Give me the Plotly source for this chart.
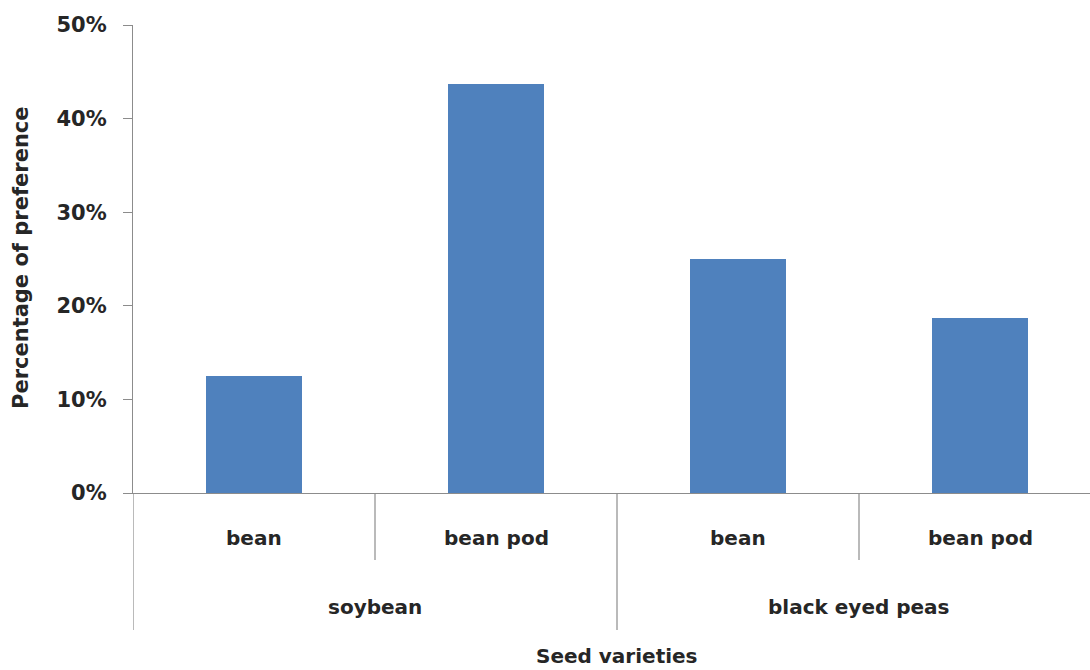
import plotly.graph_objects as go

# Seed preference data (percent of choices)
varieties = ["soybean", "soybean", "black eyed peas", "black eyed peas"]
parts = ["bean", "bean pod", "bean", "bean pod"]
preference = [12.5, 43.75, 25.0, 18.75]
y_ticks = [0, 10, 20, 30, 40, 50]
y_tick_labels = ["0%", "10%", "20%", "30%", "40%", "50%"]

BAR = "#4F81BD"
AXIS = "#8c8c8c"
TEXT = "#262626"
FONT = "DejaVu Sans"

xpos = list(range(len(parts)))

fig = go.Figure(
    go.Bar(
        x=xpos,
        y=preference,
        width=0.395,
        marker=dict(color=BAR, line=dict(width=0)),
        hovertemplate="%{y}%<extra></extra>",
    )
)

W, H = 1090, 670
ml, mt, mb = 133, 25, 177
plot_h = H - mt - mb

def ypaper(px):
    # pixel row below the plot area -> paper coordinate
    return (H - mb - px) / plot_h

label_font = dict(size=20, color=TEXT, family=FONT)

# inner labels
annotations = []
for i, p in enumerate(parts):
    annotations.append(dict(x=i, y=ypaper(538), xref="x", yref="paper", text=f"<b>{p}</b>",
                            showarrow=False, font=label_font,
                            xanchor="center", yanchor="middle"))

# outer group labels
groups = []
for i, v in enumerate(varieties):
    if not groups or groups[-1][0] != v:
        groups.append([v, i, i])
    else:
        groups[-1][2] = i

for name, start, end in groups:
    annotations.append(dict(x=(start + end) / 2, y=ypaper(607), xref="x", yref="paper",
                            text=f"<b>{name}</b>", showarrow=False, font=label_font,
                            xanchor="center", yanchor="middle"))

# dividers between inner categories (short) and between groups (long)
shapes = []
for i in range(len(parts)):
    xb = i - 0.5
    is_group_edge = i == 0 or varieties[i] != varieties[i - 1]
    bottom = ypaper(630) if is_group_edge else ypaper(560)
    shapes.append(dict(type="line", xref="x", yref="paper", x0=xb, x1=xb, y0=0, y1=bottom,
                       line=dict(color=AXIS, width=1.2)))

annotations.append(dict(x=(len(parts) - 1) / 2, y=ypaper(670), xref="x", yref="paper",
                        text="<b>Seed varieties</b>", showarrow=False, font=label_font,
                        xanchor="center", yanchor="bottom"))
annotations.append(dict(x=(21 - ml) / (W - ml), y=ypaper(258), xref="paper", yref="paper",
                        text="<b>Percentage of preference</b>", showarrow=False, textangle=-90,
                        font=dict(size=21, color=TEXT, family=FONT),
                        xanchor="center", yanchor="middle"))

fig.update_layout(
    width=W, height=H,
    margin=dict(l=ml, r=0, t=mt, b=mb),
    plot_bgcolor="white", paper_bgcolor="white",
    showlegend=False,
    bargap=0,
    xaxis=dict(range=[-0.5, len(parts) - 0.5 - 11 / 242], showticklabels=False, ticks="",
               showgrid=False, zeroline=False, showline=True, linecolor=AXIS, linewidth=1.2,
               fixedrange=True),
    yaxis=dict(range=[0, 50], tickvals=y_ticks,
               ticktext=[f"<b>{t}</b>" for t in y_tick_labels],
               ticks="outside", ticklen=9, tickcolor=AXIS, tickwidth=1.2,
               showline=True, linecolor=AXIS, linewidth=1.2, showgrid=False, zeroline=False,
               tickfont=dict(size=21, color=TEXT, family=FONT),
               ticklabelstandoff=12, fixedrange=True),
    shapes=shapes,
    annotations=annotations,
    font=dict(family=FONT),
)

fig.write_html("out.html")
